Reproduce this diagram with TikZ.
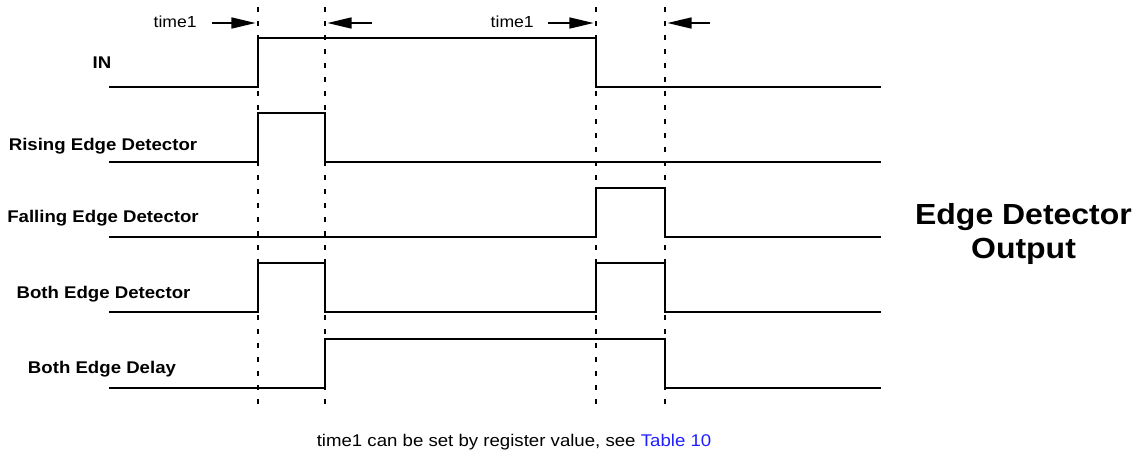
\documentclass[tikz,border=0pt]{standalone}
\usepackage{fontspec}
\setmainfont{Liberation Sans}
\newfontfamily\widesans[FakeStretch=1.1]{Liberation Sans}
\usetikzlibrary{arrows.meta}
\definecolor{linkblue}{RGB}{30,30,255}
\begin{document}
\begin{tikzpicture}[x=0.75pt,y=-0.75pt,
  sig/.style={line width=2pt, line join=miter, line cap=rect},
  guide/.style={line width=2pt, dash pattern=on 3.75pt off 6.75pt},
  lbl/.style={font=\widesans\bfseries\fontsize{12.7}{15}\selectfont, inner sep=0pt, anchor=base},
  tlbl/.style={font=\widesans\fontsize{12}{14}\selectfont, inner sep=0pt, anchor=base east},
  notefont/.style={font=\widesans\fontsize{12.7}{15}\selectfont, inner sep=0pt, anchor=base},
  tarrow/.style={line width=2pt, -{Triangle[length=18.5pt,width=8pt]}},
  big/.style={font=\widesans\bfseries\fontsize{21.8}{25}\selectfont, inner sep=0pt, anchor=base}]
\useasboundingbox (0,0) rectangle (1140,451);
% guide lines
\foreach \x/\n in {258/a,325/b,596/c,665/d}{
  \coordinate (top\n) at (\x,7);
  \coordinate (bot\n) at (\x,410);
  \draw[guide] (top\n) -- (bot\n);
}
% signals
\draw[sig] (110,87) -- (258,87) -- (258,38) -- (596,38) -- (596,87) -- (880,87);
\draw[sig] (110,162) -- (258,162) -- (258,113) -- (325,113) -- (325,162) -- (880,162);
\draw[sig] (110,237) -- (596,237) -- (596,188) -- (665,188) -- (665,237) -- (880,237);
\draw[sig] (110,312) -- (258,312) -- (258,263) -- (325,263) -- (325,312) -- (596,312) -- (596,263) -- (665,263) -- (665,312) -- (880,312);
\draw[sig] (110,388) -- (325,388) -- (325,339) -- (665,339) -- (665,388) -- (880,388);
% labels
\node[lbl] (lin) at (102,68) {IN};
\node[lbl] (lrise) at (103,150) {Rising Edge Detector};
\node[lbl] (lfall) at (103,222) {Falling Edge Detector};
\node[lbl] (lboth) at (103.5,298) {Both Edge Detector};
\node[lbl] (ldel) at (102,373) {Both Edge Delay};
% time1 markers
\node[tlbl] (t1) at (197,27) {time1};
\node[tlbl] (t2) at (534,27) {time1};
\coordinate (a1s) at (212,23); \coordinate (a1e) at (256,23);
\coordinate (a2s) at (372,23); \coordinate (a2e) at (327,23);
\coordinate (a3s) at (548,23); \coordinate (a3e) at (594,23);
\coordinate (a4s) at (710,23); \coordinate (a4e) at (667,23);
\draw[tarrow] (a1s) -- (a1e);
\draw[tarrow] (a2s) -- (a2e);
\draw[tarrow] (a3s) -- (a3e);
\draw[tarrow] (a4s) -- (a4e);
% title
\node[big] (title1) at (1023.5,224) {Edge Detector};
\node[big] (title2) at (1023.5,258) {Output};
% footnote
\node[notefont] (note) at (514,446) {time1 can be set by register value, see \textcolor{linkblue}{Table 10}};
\end{tikzpicture}
\end{document}
